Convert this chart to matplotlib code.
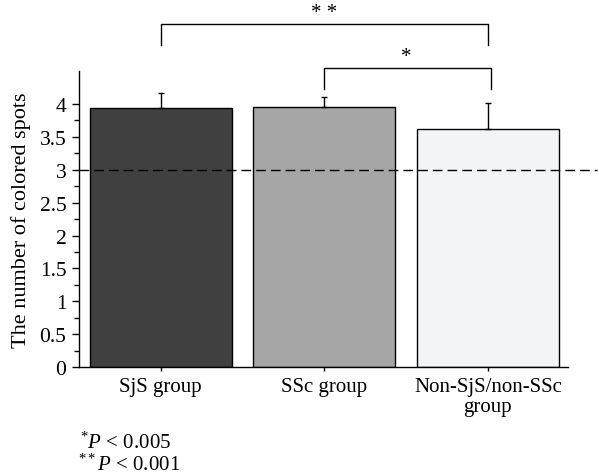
import matplotlib
matplotlib.use("Agg")
import matplotlib.pyplot as plt
import numpy as np

categories = ["SjS group", "SSc group", "Non-SjS/non-SSc\ngroup"]
means = [3.94, 3.95, 3.62]
err_upper = [0.23, 0.16, 0.39]
bar_colors = ["#404040", "#a6a6a6", "#f3f4f6"]
reference_line = 3.0
yticks = [0, 0.5, 1, 1.5, 2, 2.5, 3, 3.5, 4]
# significance brackets: (left index, right index, label, leg bottom, top)
brackets = [(0, 2, "* *", 4.90, 5.22), (1, 2, "*", 4.23, 4.55)]

plt.rcParams["font.family"] = ["Liberation Serif", "DejaVu Serif"]
plt.rcParams["mathtext.fontset"] = "custom"
plt.rcParams["mathtext.rm"] = "Liberation Serif"
plt.rcParams["mathtext.it"] = "Liberation Serif:italic"

fig = plt.figure(figsize=(5.99, 4.77), dpi=100)
ax = fig.add_axes([79 / 599, (477 - 368) / 477, (568 - 79) / 599, 4.5 * 65.75 / 477])

x = np.arange(len(categories))
ax.bar(x, means, width=0.87, color=bar_colors, edgecolor="black", linewidth=1.0, zorder=2)
ax.errorbar(x, means, yerr=[np.zeros(len(means)), err_upper], fmt="none",
            ecolor="black", elinewidth=1.0, capsize=2.2, capthick=1.0, zorder=3)

ax.set_xlim(-0.5, 2.49)
ax.set_ylim(0, 4.5)
ax.plot([-0.5, 2.667], [reference_line, reference_line], color="black", lw=1.0,
        linestyle=(0, (7, 3.6)), clip_on=False, zorder=4)

for spine in ["top", "right"]:
    ax.spines[spine].set_visible(False)
ax.spines["left"].set_linewidth(1.0)
ax.spines["bottom"].set_linewidth(1.0)

ax.set_yticks(yticks)
ax.set_yticklabels(["%g" % v for v in yticks])
ax.set_yticks(np.arange(0.25, 4.0, 0.5), minor=True)
ax.tick_params(axis="y", which="major", length=5, width=1, direction="out", labelsize=15.5, pad=4)
ax.tick_params(axis="y", which="minor", length=3.5, width=1, direction="out")
ax.set_xticks(x)
ax.set_xticklabels(categories, linespacing=1.1)
ax.tick_params(axis="x", length=3, width=1, direction="out", labelsize=15, pad=4)
ax.set_ylabel("The number of colored spots", fontsize=16, labelpad=6)

for i, j, lab, yb, yt in brackets:
    xr = x[j] + (0.02 if i == 1 else 0)
    ax.plot([x[i], x[i], xr, xr], [yb, yt, yt, yb], color="black", lw=1.0, clip_on=False)
    ax.text((x[i] + x[j]) / 2, yt + 0.03, lab, ha="center", va="bottom", fontsize=15, clip_on=False)

fig.text(80 / 599, 1 - 449 / 477, r"$^{*}P$ < 0.005", fontsize=15, ha="left", va="baseline")
fig.text(78 / 599, 1 - 471 / 477, r"$^{**}P$ < 0.001", fontsize=15, ha="left", va="baseline")

fig.savefig("out.png", dpi=100)
